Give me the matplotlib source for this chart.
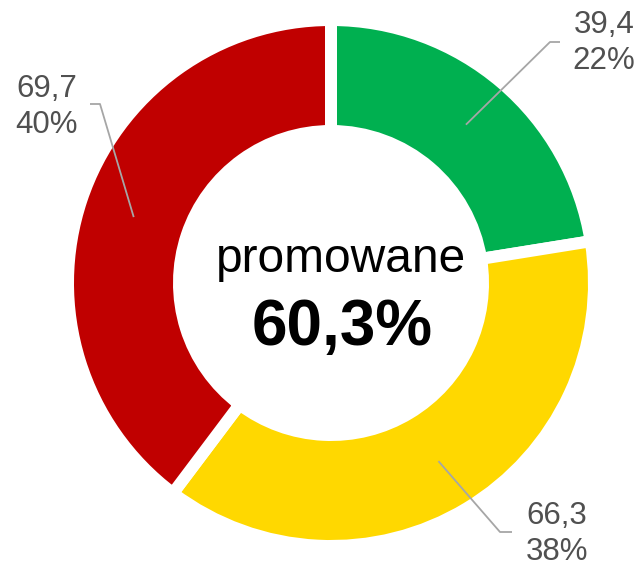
import numpy as np
import matplotlib
matplotlib.use("Agg")
import matplotlib.pyplot as plt

plt.rcParams['font.family'] = ['Liberation Sans', 'DejaVu Sans']

values = [39.4, 66.3, 69.7]
colors = ['#00B050', '#FFD800', '#C00000']
center_title = "promowane"
center_value = "60,3%"

W, H = 643, 566
fig = plt.figure(figsize=(W / 100, H / 100), dpi=100)
ax = fig.add_axes([0, 0, 1, 1])
ax.set_xlim(0, W)
ax.set_ylim(0, H)
ax.set_aspect('equal')
ax.axis('off')

cx, cy = 331, H - 283
edge = 12
R = 257 + edge / 2
width = 111

wedges, _ = ax.pie(values, colors=colors, startangle=90, counterclock=False,
                   radius=R, center=(cx, cy), frame=True,
                   wedgeprops=dict(width=width, edgecolor='white', linewidth=edge * 0.72))
ax.set_xlim(0, W)
ax.set_ylim(0, H)
ax.axis('off')

total = sum(values)
# layout: elbow points and label positions (pixel coords from top)
elbows = [((550, 42), (560, 42)), ((500, 532), (512, 532)), ((100, 104), (90, 104))]
label_pos = [(604, 43), (557, 534), (47, 107)]
r_anchor = 208
line_color = '#A6A6A6'
for w, v, (e1, e2), (lx, ly) in zip(wedges, values, elbows, label_pos):
    ang = np.deg2rad((w.theta1 + w.theta2) / 2)
    ax_ = cx + r_anchor * np.cos(ang)
    ay_ = cy + r_anchor * np.sin(ang)
    ax.plot([ax_, e1[0], e2[0]], [ay_, H - e1[1], H - e2[1]], color=line_color, lw=1.3,
            solid_capstyle='butt')
    txt = f"{v:.1f}".replace('.', ',') + "\n" + f"{round(v / total * 100):.0f}%"
    ax.text(lx, H - ly, txt, ha='center', va='center', multialignment='center',
            fontsize=22.5, color='#505050', linespacing=1.22)

ax.text(341, H - 272, center_title, ha='center', va='baseline', fontsize=34.5, color='black')
ax.text(342, H - 345, center_value, ha='center', va='baseline', fontsize=46,
        fontweight='bold', color='black')

fig.savefig('out.png', dpi=100, facecolor='white')
